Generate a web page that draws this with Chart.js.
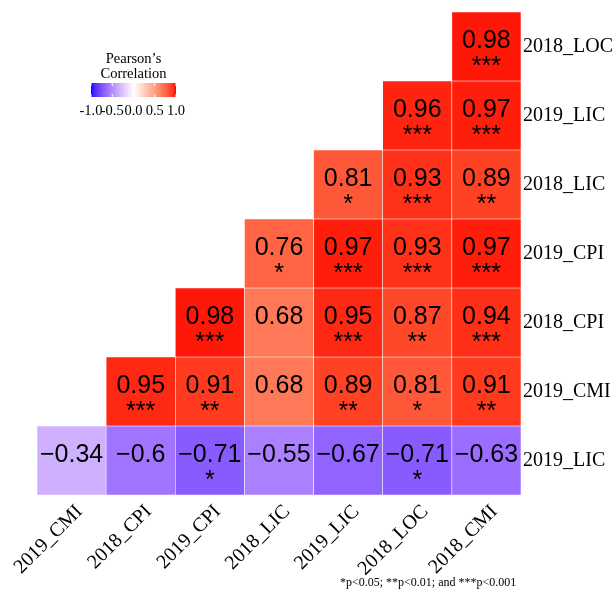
<!DOCTYPE html>
<html>
<head>
<meta charset="utf-8">
<script src="https://cdn.jsdelivr.net/npm/chart.js@4/dist/chart.umd.min.js"></script>
<style>
  html, body { margin: 0; padding: 0; background: #ffffff; }
  #wrap { width: 615px; height: 591px; }
</style>
</head>
<body>
<div id="wrap"><canvas id="heat"></canvas></div>
<script>
// Variables along the bottom (columns) and down the right side (rows, top to bottom)
const colLabels = ['2019_CMI', '2018_CPI', '2019_CPI', '2018_LIC', '2019_LIC', '2018_LOC', '2018_CMI'];
const rowLabels = ['2018_LOC', '2019_LIC', '2018_LIC', '2019_CPI', '2018_CPI', '2019_CMI', '2019_LIC'];

// Pearson correlations, one array per row (null = cell not drawn)
const rowLOC18 = [null, null, null, null, null, null, 0.98];
const rowLIC19 = [null, null, null, null, null, 0.96, 0.97];
const rowLIC18 = [null, null, null, null, 0.81, 0.93, 0.89];
const rowCPI19 = [null, null, null, 0.76, 0.97, 0.93, 0.97];
const rowCPI18 = [null, null, 0.98, 0.68, 0.95, 0.87, 0.94];
const rowCMI19 = [null, 0.95, 0.91, 0.68, 0.89, 0.81, 0.91];
const rowLICb  = [-0.34, -0.6, -0.71, -0.55, -0.67, -0.71, -0.63];

// Significance stars for each cell
const sigLOC18 = ['', '', '', '', '', '', '***'];
const sigLIC19 = ['', '', '', '', '', '***', '***'];
const sigLIC18 = ['', '', '', '', '*', '***', '**'];
const sigCPI19 = ['', '', '', '*', '***', '***', '***'];
const sigCPI18 = ['', '', '***', '', '***', '**', '***'];
const sigCMI19 = ['', '***', '**', '', '**', '*', '**'];
const sigLICb  = ['', '', '*', '', '', '*', ''];

// Colour-bar tick labels
const legendTicks = [-1.0, -0.5, 0.0, 0.5, 1.0];

const corr = [rowLOC18, rowLIC19, rowLIC18, rowCPI19, rowCPI18, rowCMI19, rowLICb];
const stars = [sigLOC18, sigLIC19, sigLIC18, sigCPI19, sigCPI18, sigCMI19, sigLICb];

// ---- diverging blue / white / red scale, interpolated in CIE Lab ----
const WX = 0.95047, WY = 1.0, WZ = 1.08883;
function toLinear(c) { c /= 255; return c <= 0.04045 ? c / 12.92 : Math.pow((c + 0.055) / 1.055, 2.4); }
function fromLinear(c) {
  c = c <= 0.0031308 ? 12.92 * c : 1.055 * Math.pow(Math.max(c, 0), 1 / 2.4) - 0.055;
  return Math.round(Math.min(1, Math.max(0, c)) * 255);
}
function rgbToLab(rgb) {
  const R = toLinear(rgb[0]), G = toLinear(rgb[1]), B = toLinear(rgb[2]);
  const X = (0.4124 * R + 0.3576 * G + 0.1805 * B) / WX;
  const Y = (0.2126 * R + 0.7152 * G + 0.0722 * B) / WY;
  const Z = (0.0193 * R + 0.1192 * G + 0.9505 * B) / WZ;
  const f = t => t > 0.008856 ? Math.cbrt(t) : 7.787 * t + 16 / 116;
  const fx = f(X), fy = f(Y), fz = f(Z);
  return [116 * fy - 16, 500 * (fx - fy), 200 * (fy - fz)];
}
function labToRgb(lab) {
  const fy = (lab[0] + 16) / 116, fx = fy + lab[1] / 500, fz = fy - lab[2] / 200;
  const inv = t => (t * t * t > 0.008856) ? t * t * t : (t - 16 / 116) / 7.787;
  const X = inv(fx) * WX, Y = inv(fy) * WY, Z = inv(fz) * WZ;
  const R = 3.2406 * X - 1.5372 * Y - 0.4986 * Z;
  const G = -0.9689 * X + 1.8758 * Y + 0.0415 * Z;
  const B = 0.0557 * X - 0.2040 * Y + 1.0570 * Z;
  return 'rgb(' + fromLinear(R) + ',' + fromLinear(G) + ',' + fromLinear(B) + ')';
}
const labLow = rgbToLab([0, 0, 255]);
const labMid = rgbToLab([255, 255, 255]);
const labHigh = rgbToLab([255, 0, 0]);
function fillFor(v) {
  const t = Math.max(-1, Math.min(1, v));
  const end = t < 0 ? labLow : labHigh;
  const k = Math.abs(t);
  return labToRgb([0, 1, 2].map(i => labMid[i] + (end[i] - labMid[i]) * k));
}

// ---- one floating-bar dataset per row; bars span the row's band on the y scale ----
const datasets = rowLabels.map((name, r) => ({
  label: name,
  data: corr[r].map(v => v === null ? null : [r - 0.5, r + 0.5]),
  backgroundColor: ctx => {
    const v = corr[r][ctx.dataIndex];
    return v === null ? 'rgba(0,0,0,0)' : fillFor(v);
  },
  borderColor: 'rgba(255,255,255,0.75)',
  borderWidth: 0.6,
  borderSkipped: false,
  grouped: false,
  categoryPercentage: 1.0,
  barPercentage: 1.0
}));

// Correlation value and stars written in each cell
const cellText = {
  id: 'cellText',
  afterDatasetsDraw(chart) {
    const ctx = chart.ctx;
    ctx.save();
    ctx.fillStyle = '#000000';
    ctx.textAlign = 'center';
    ctx.textBaseline = 'alphabetic';
    ctx.font = '25px "Liberation Sans", Arial, sans-serif';
    chart.data.datasets.forEach((ds, r) => {
      const meta = chart.getDatasetMeta(r);
      meta.data.forEach((bar, j) => {
        const v = corr[r][j];
        if (v === null) return;
        const c = bar.getCenterPoint();
        ctx.fillText(String(v).replace('-', '\u2212'), c.x, c.y + 1.5);
        if (stars[r][j]) ctx.fillText(stars[r][j], c.x, c.y + 27.5);
      });
    });
    ctx.restore();
  }
};

// Colour-bar legend and the significance footnote
const legendAndNote = {
  id: 'legendAndNote',
  afterDraw(chart) {
    const ctx = chart.ctx;
    ctx.save();
    const x0 = 91, x1 = 176, y0 = 83, y1 = 97;
    ctx.fillStyle = '#000000';
    ctx.textAlign = 'center';
    ctx.textBaseline = 'alphabetic';
    ctx.font = '14.5px "Liberation Serif", "Times New Roman", serif';
    ctx.fillText('Pearson\u2019s', (x0 + x1) / 2, 63);
    ctx.fillText('Correlation', (x0 + x1) / 2, 78);

    const grad = ctx.createLinearGradient(x0, 0, x1, 0);
    for (let i = 0; i <= 40; i++) {
      const v = -1 + i / 20;
      grad.addColorStop(i / 40, fillFor(v));
    }
    ctx.fillStyle = grad;
    ctx.fillRect(x0, y0, x1 - x0, y1 - y0);

    ctx.strokeStyle = '#ffffff';
    ctx.lineWidth = 1;
    ctx.fillStyle = '#000000';
    ctx.font = '14.5px "Liberation Serif", "Times New Roman", serif';
    legendTicks.forEach(t => {
      const x = x0 + (t + 1) / 2 * (x1 - x0);
      ctx.beginPath();
      ctx.moveTo(x, y0); ctx.lineTo(x, y0 + 3);
      ctx.moveTo(x, y1 - 3); ctx.lineTo(x, y1);
      ctx.stroke();
      ctx.fillText(t.toFixed(1), x, 115);
    });

    ctx.textAlign = 'left';
    ctx.font = '12px "Liberation Serif", "Times New Roman", serif';
    ctx.fillText('*p<0.05; **p<0.01; and ***p<0.001', 340, 586);
    ctx.restore();
  }
};

new Chart(document.getElementById('heat'), {
  type: 'bar',
  data: { labels: colLabels, datasets: datasets },
  options: {
    responsive: true,
    maintainAspectRatio: false,
    animation: false,
    layout: { padding: { left: 37, top: 12, right: 0, bottom: 0 } },
    plugins: { legend: { display: false }, tooltip: { enabled: false } },
    scales: {
      x: {
        type: 'category',
        offset: true,
        grid: { display: false, drawTicks: false },
        border: { display: false },
        afterFit: s => { s.height = 96; },
        ticks: {
          autoSkip: false,
          minRotation: 45,
          maxRotation: 45,
          padding: 5,
          labelOffset: 8,
          color: '#000000',
          font: { family: '"Liberation Serif", "Times New Roman", serif', size: 20 }
        }
      },
      y: {
        type: 'linear',
        position: 'right',
        reverse: true,
        min: -0.5,
        max: 6.5,
        grid: { display: false, drawTicks: false },
        border: { display: false },
        afterFit: s => { s.width = 94; s.paddingTop = 0; s.paddingBottom = 0; },
        afterBuildTicks: s => { s.ticks = rowLabels.map((_, i) => ({ value: i })); },
        ticks: {
          padding: 2,
          color: '#000000',
          callback: v => rowLabels[v],
          font: { family: '"Liberation Serif", "Times New Roman", serif', size: 20 }
        }
      }
    }
  },
  plugins: [cellText, legendAndNote]
});
</script>
</body>
</html>
